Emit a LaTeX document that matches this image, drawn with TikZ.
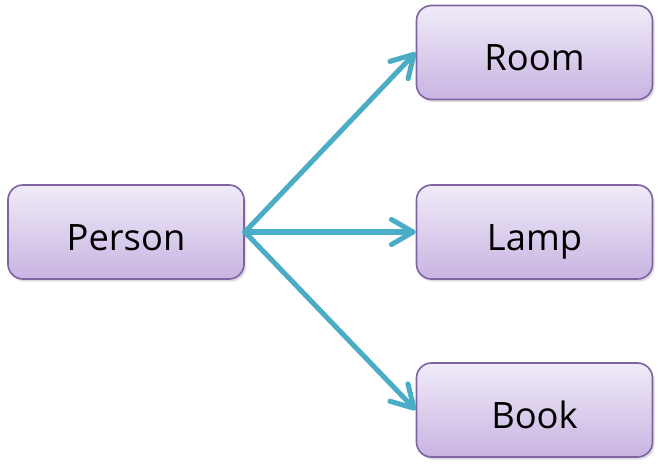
\documentclass[tikz,border=0pt]{standalone}
\usepackage{fontspec}
\setmainfont{Open Sans}
\usetikzlibrary{positioning,arrows.meta,shadows}
\definecolor{BoxEdge}{RGB}{128,100,162}
\definecolor{BoxTop}{RGB}{240,235,248}
\definecolor{BoxBottom}{RGB}{200,180,226}
\definecolor{LinkBlue}{RGB}{75,172,198}
\tikzset{
    entity/.style={rectangle,rounded corners=0.45cm,draw=BoxEdge,line width=1.4pt,
        top color=BoxTop,bottom color=BoxBottom,minimum width=7.08cm,minimum height=2.82cm,
        inner sep=0pt,text height=1.2cm,text depth=0.12cm,font=\fontsize{31}{38}\selectfont,
        drop shadow={shadow xshift=0.6mm,shadow yshift=-0.8mm,opacity=0.25}},
    link/.style={line width=4.3pt,LinkBlue,line cap=round,
        -{Straight Barb[length=6.5mm,width=7.5mm,round]}}
}
\begin{document}
\begin{tikzpicture}[x=0.03cm,y=-0.03cm]
\useasboundingbox (0,0) rectangle (661,468);

% boxes
\node[entity] (person) at (126,232) {Person};
\node[entity] (room) at (534.5,52.5) {Room};
\node[entity] (lamp) at (534.5,232) {Lamp};
\node[entity] (book) at (534.5,410) {Book};

% arrows
\draw[link] (person.east) -- (room.west);
\draw[link] (person.east) -- (lamp.west);
\draw[link] (person.east) -- (book.west);
\end{tikzpicture}
\end{document}
